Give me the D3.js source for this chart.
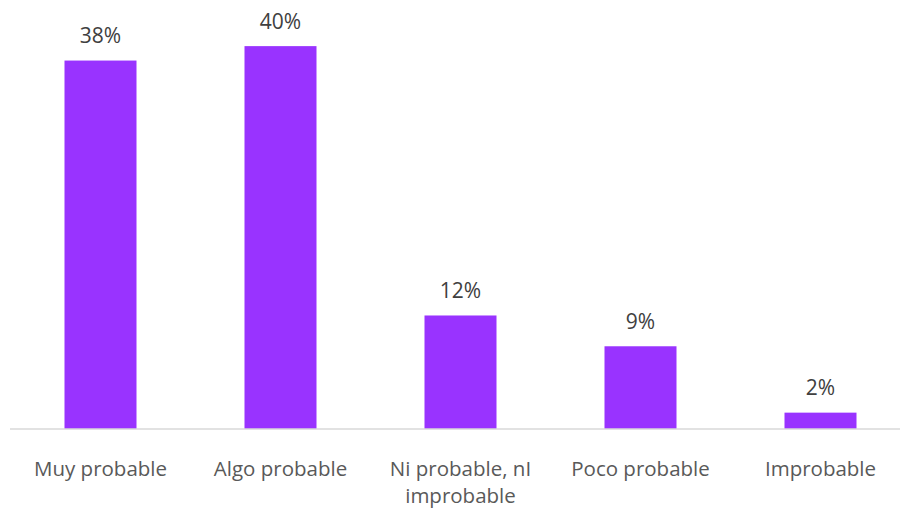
<!DOCTYPE html>
<html>
<head>
<meta charset="utf-8">
<script src="https://cdn.jsdelivr.net/npm/d3@7"></script>
<style>
  html, body { margin: 0; padding: 0; background: #fff; }
  svg { display: block; }
</style>
</head>
<body>
<svg id="chart" width="900" height="508"></svg>
<script>
const categories = [["Muy probable"], ["Algo probable"], ["Ni probable, nI", "improbable"], ["Poco probable"], ["Improbable"]];
const values = [0.383, 0.398, 0.118, 0.086, 0.017];
const valueLabels = ["38%", "40%", "12%", "9%", "2%"];

const W = 900, H = 508;
const baseY = 429;
const svg = d3.select("#chart");

const x = d3.scaleBand()
  .domain(d3.range(categories.length))
  .range([10.5, 910.5])
  .paddingInner(0.6)
  .paddingOuter(0.3);

const y = d3.scaleLinear()
  .domain([0, 0.45])
  .range([baseY, baseY - 0.45 * 962]);

// bars
svg.append("g").selectAll("rect")
  .data(values)
  .join("rect")
  .attr("x", (d, i) => x(i))
  .attr("width", x.bandwidth())
  .attr("y", d => y(d))
  .attr("height", d => y(0) - y(d))
  .attr("fill", "#9933FF");

// axis line
const xAxis = d3.axisBottom(x).tickSize(0).tickFormat("");
const ax = svg.append("g").attr("transform", `translate(0,${baseY})`).call(xAxis);
ax.select(".domain").attr("stroke", "#d9d9d9").attr("stroke-width", 1.5)
  .attr("d", `M10,0H900`);

const FONT = "'Open Sans', sans-serif";

// value labels
svg.append("g").selectAll("text")
  .data(values)
  .join("text")
  .attr("x", (d, i) => x(i) + x.bandwidth() / 2)
  .attr("y", d => y(d) - 17.5)
  .attr("text-anchor", "middle")
  .attr("font-family", FONT)
  .attr("font-size", 21)
  .attr("fill", "#404040")
  .text((d, i) => valueLabels[i]);

// category labels (one text element per line)
const lineData = [];
categories.forEach((lines, i) => lines.forEach((ln, j) => lineData.push({ i, j, ln })));
svg.append("g").selectAll("text")
  .data(lineData)
  .join("text")
  .attr("x", d => x(d.i) + x.bandwidth() / 2)
  .attr("y", d => 475.5 + d.j * 27.5)
  .attr("text-anchor", "middle")
  .attr("font-family", FONT)
  .attr("font-size", 20.5)
  .attr("fill", "#595959")
  .text(d => d.ln);
</script>
</body>
</html>
